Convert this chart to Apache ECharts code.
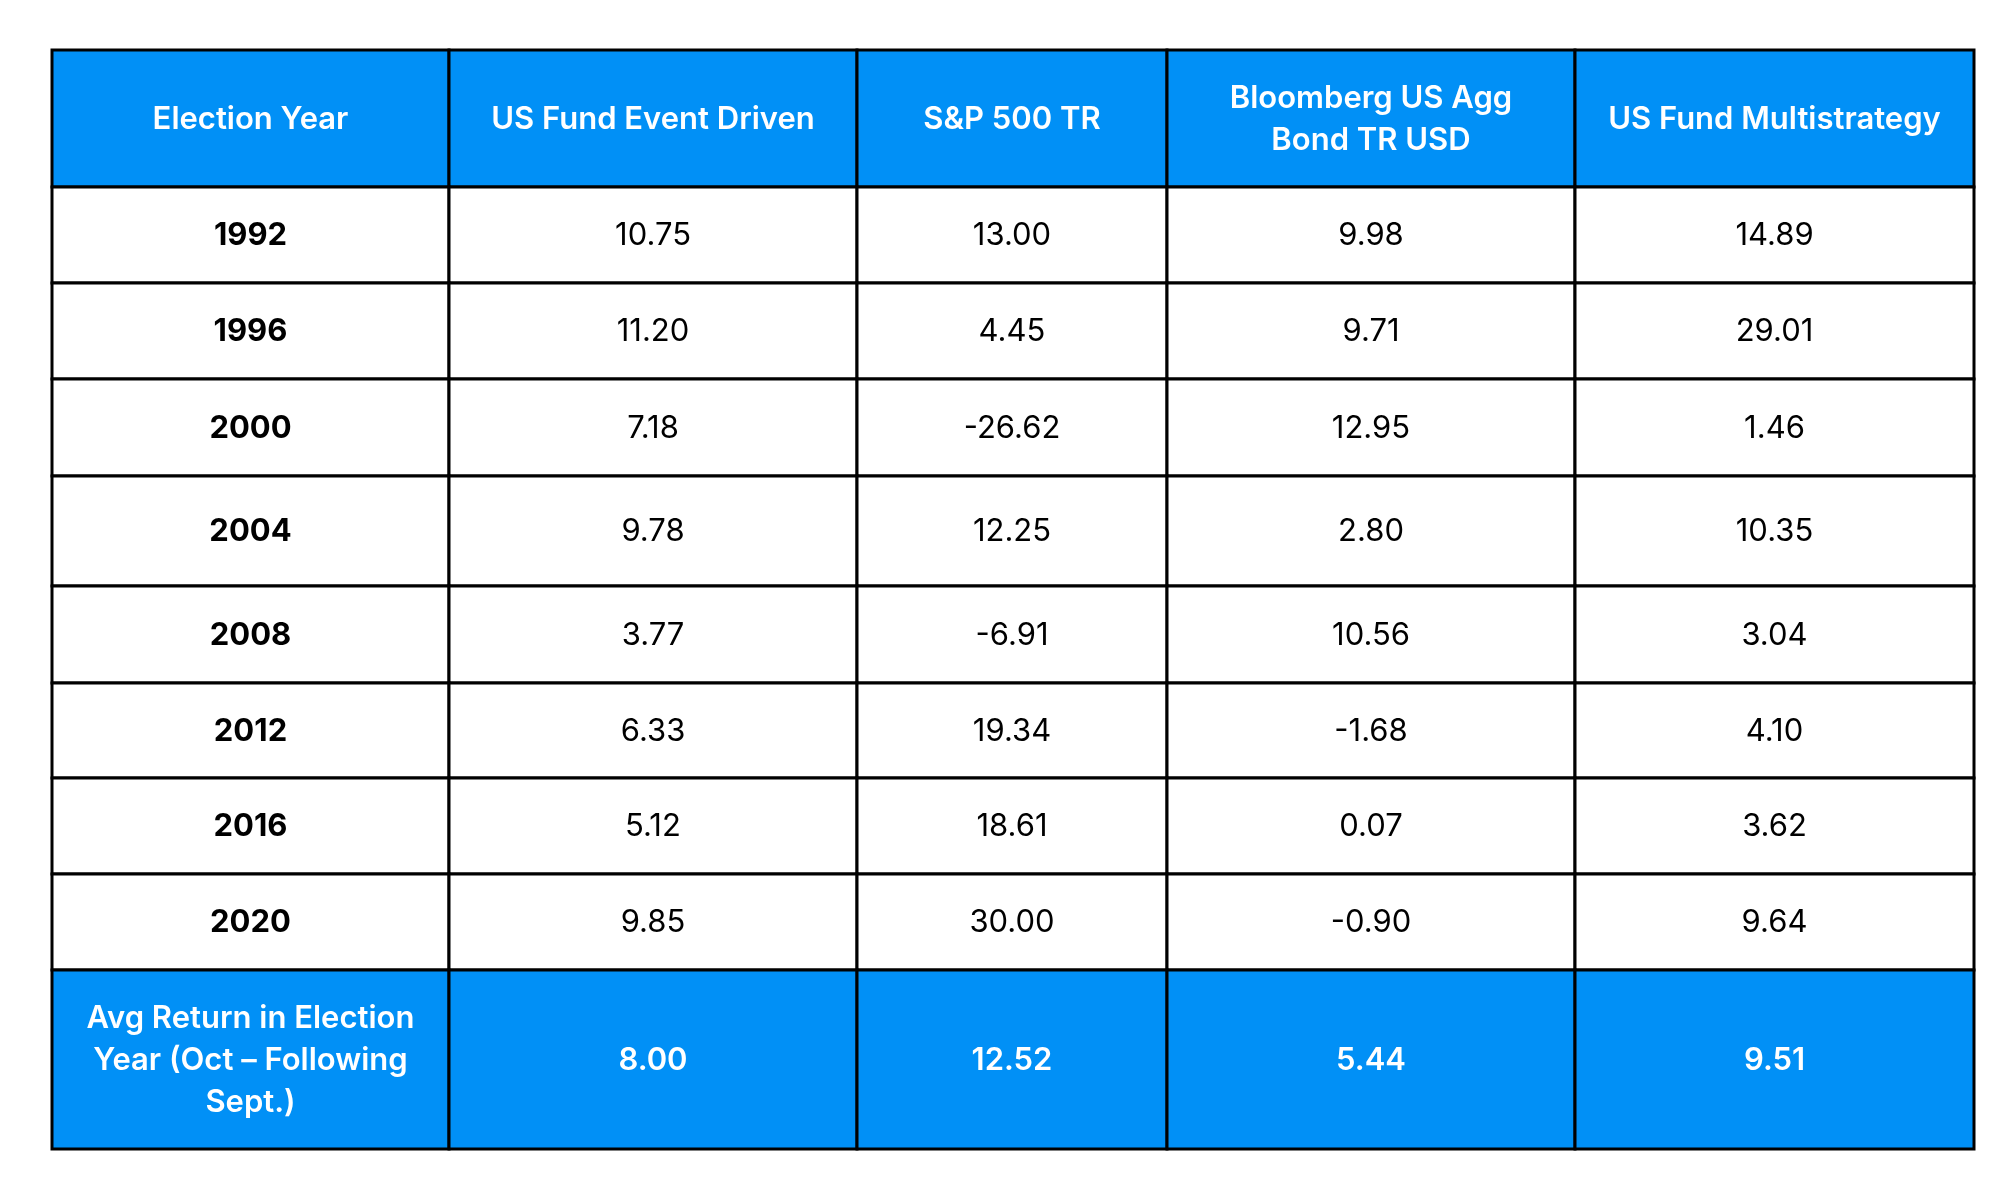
<!DOCTYPE html>
<html>
<head>
<meta charset="utf-8">
<script src="https://cdn.jsdelivr.net/npm/echarts@6/dist/echarts.min.js"></script>
<style>
    html, body { margin: 0; padding: 0; background: #fff; }
    #tablechart { width: 2000px; height: 1200px; }
</style>
</head>
<body>
<div id="tablechart"></div>

<script type="text/javascript">
    // table content
    var headers = ['Election Year', 'US Fund Event Driven', 'S&P 500 TR', 'Bloomberg US Agg\nBond TR USD', 'US Fund Multistrategy'];
    var years = ['1992', '1996', '2000', '2004', '2008', '2012', '2016', '2020'];
    var eventDriven = [10.75, 11.20, 7.18, 9.78, 3.77, 6.33, 5.12, 9.85];
    var sp500 = [13.00, 4.45, -26.62, 12.25, -6.91, 19.34, 18.61, 30.00];
    var aggBond = [9.98, 9.71, 12.95, 2.80, 10.56, -1.68, 0.07, -0.90];
    var multistrategy = [14.89, 29.01, 1.46, 10.35, 3.04, 4.10, 3.62, 9.64];
    var avgLabel = 'Avg Return in Election\nYear (Oct \u2013 Following\nSept.)';
    var averages = [8.00, 12.52, 5.44, 9.51];

    // layout (px)
    var colWidths = [397, 408, 310, 408, 399];
    var rowHeights = [137, 96, 96, 97, 110, 97, 95, 96, 96, 179];
    var blue = '#0190F6';

    function sum(arr, n) {
        var s = 0;
        for (var i = 0; i < n; i++) s += arr[i];
        return s;
    }
    var totalW = sum(colWidths, colWidths.length);
    var totalH = sum(rowHeights, rowHeights.length);

    // build cells: [col, row, text, kind]
    var cells = [];
    for (var c = 0; c < headers.length; c++) {
        cells.push([c, 0, headers[c], 'head']);
    }
    var cols = [eventDriven, sp500, aggBond, multistrategy];
    for (var r = 0; r < years.length; r++) {
        cells.push([0, r + 1, years[r], 'year']);
        for (var k = 0; k < cols.length; k++) {
            cells.push([k + 1, r + 1, cols[k][r].toFixed(2), 'num']);
        }
    }
    var lastRow = years.length + 1;
    cells.push([0, lastRow, avgLabel, 'head']);
    for (var k = 0; k < averages.length; k++) {
        cells.push([k + 1, lastRow, averages[k].toFixed(2), 'head']);
    }

    function renderCell(params, api) {
        var c = api.value(0), r = api.value(1);
        var cell = cells[params.dataIndex];
        var x0 = sum(colWidths, c), y0 = sum(rowHeights, r);
        var p0 = api.coord([x0, y0]);
        var p1 = api.coord([x0 + colWidths[c], y0 + rowHeights[r]]);
        var kind = cell[3];
        var isHead = kind === 'head';
        return {
            type: 'group',
            children: [
                {
                    type: 'rect',
                    shape: { x: p0[0], y: p0[1], width: p1[0] - p0[0], height: p1[1] - p0[1] },
                    style: { fill: isHead ? blue : '#ffffff', stroke: '#000000', lineWidth: 3 }
                },
                {
                    type: 'text',
                    style: {
                        text: cell[2],
                        x: (p0[0] + p1[0]) / 2,
                        y: (p0[1] + p1[1]) / 2 + 1,
                        align: 'center',
                        verticalAlign: 'middle',
                        fill: isHead ? '#ffffff' : '#000000',
                        fontFamily: 'Inter',
                        fontSize: 31,
                        fontWeight: kind === 'num' ? 400 : (kind === 'year' ? 700 : 600),
                        lineHeight: 42
                    }
                }
            ]
        };
    }

    var chart = echarts.init(document.getElementById('tablechart'));
    var option = {
        animation: false,
        grid: { left: 52, top: 50, width: totalW, height: totalH },
        xAxis: { type: 'value', min: 0, max: totalW, show: false },
        yAxis: { type: 'value', min: 0, max: totalH, inverse: true, show: false },
        series: [
            {
                type: 'custom',
                clip: false,
                renderItem: renderCell,
                data: cells.map(function (d) { return [d[0], d[1]]; })
            }
        ]
    };
    chart.setOption(option);
</script>
</body>
</html>
